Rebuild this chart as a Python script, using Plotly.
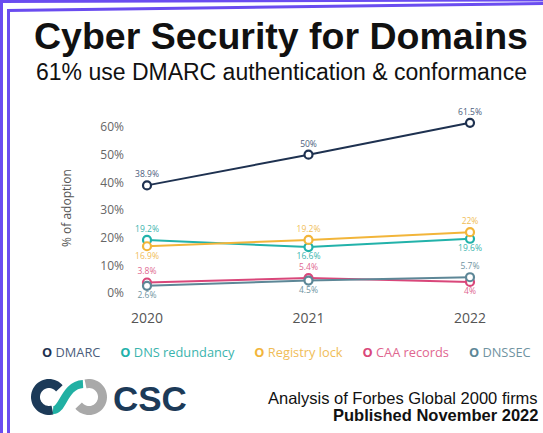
import numpy as np
import plotly.graph_objects as go

# ---------------- data ----------------
years = [2020, 2021, 2022]
dmarc = [38.9, 50, 61.5]
dns_redundancy = [19.2, 16.6, 19.6]
registry_lock = [16.9, 19.2, 22]
caa_records = [3.8, 5.4, 4]
dnssec = [2.6, 4.5, 5.7]
series_names = ["DMARC", "DNS redundancy", "Registry lock", "CAA records", "DNSSEC"]
y_ticks = [0, 10, 20, 30, 40, 50, 60]
y_tick_labels = ["0%", "10%", "20%", "30%", "40%", "50%", "60%"]

title = "Cyber Security for Domains"
subtitle = "61% use DMARC authentication &amp; conformance"
y_title = "% of adoption"
note1 = "Analysis of Forbes Global 2000 firms"
note2 = "Published November 2022"

# ---------------- styles ----------------
W, H = 543, 433
def px(x):
    return x / W
def py(y):
    return 1 - y / H

line_colors = ["#1e3150", "#22b2aa", "#f2b53a", "#d9477a", "#5d8797"]
label_colors = ["#4b5d7c", "#3ab4ad", "#f0bd57", "#e0668f", "#6f93a1"]
positions = [
    ["top center", "top center", "top center"],
    ["top center", "bottom center", "bottom center"],
    ["bottom center", "top center", "top center"],
    ["top center", "top center", "bottom center"],
    ["bottom center", "bottom center", "top center"],
]
values = [dmarc, dns_redundancy, registry_lock, caa_records, dnssec]

FONT = "Open Sans"
fig = go.Figure()
for name, vals, lc, tc, pos in zip(series_names, values, line_colors, label_colors, positions):
    fig.add_trace(go.Scatter(
        x=years, y=vals, name=name, mode="lines+markers+text",
        line=dict(color=lc, width=2),
        marker=dict(symbol="circle", size=8, color="white", line=dict(color=lc, width=2.2)),
        text=[f"{v:g}%" for v in vals], textposition=pos,
        textfont=dict(family=FONT, size=8.5, color=tc),
        cliponaxis=False, showlegend=False, hoverinfo="skip",
    ))

# x: 2020 -> 147px, 2022 -> 470px ; y: 0% -> 293px, 60% -> 127px
x_l, x_r = 125, 495
xs = (470 - 147) / 2
y_t, y_b = 105, 300
ys = (293 - 127) / 60

fig.update_xaxes(
    domain=[px(x_l), px(x_r)],
    range=[2020 - (147 - x_l) / xs, 2022 + (x_r - 470) / xs],
    tickvals=years, ticktext=[str(y) for y in years],
    showgrid=False, zeroline=False, showline=False, ticks="",
    tickfont=dict(family=FONT, size=14, color="#555555"),
    ticklabelstandoff=8, fixedrange=True,
)
fig.update_yaxes(
    domain=[py(y_b), py(y_t)],
    range=[(293 - y_b) / ys, (293 - y_t) / ys],
    tickvals=y_ticks, ticktext=y_tick_labels,
    showgrid=False, zeroline=False, showline=False, ticks="",
    tickfont=dict(family=FONT, size=12, color="#666666"),
    fixedrange=True,
)

ann = []
ann.append(dict(text=f"<b>{title}</b>", x=px(281), y=py(36), xref="paper", yref="paper",
                xanchor="center", yanchor="middle", showarrow=False,
                font=dict(family="Liberation Sans", size=37.5, color="#111111")))
ann.append(dict(text=subtitle, x=px(281), y=py(72), xref="paper", yref="paper",
                xanchor="center", yanchor="middle", showarrow=False,
                font=dict(family="Liberation Sans", size=23, color="#111111")))
ann.append(dict(text=y_title, x=px(66), y=py(208), xref="paper", yref="paper",
                xanchor="center", yanchor="middle", showarrow=False, textangle=-90,
                font=dict(family=FONT, size=12, color="#555555")))

# legend as colored text row
parts = []
for name, lc, tc in zip(series_names, line_colors, label_colors):
    parts.append(f"<span style='color:{lc}'><b>O</b></span> <span style='color:{tc}'>{name}</span>")
ann.append(dict(text="      ".join(parts), x=px(286), y=py(352), xref="paper", yref="paper",
                xanchor="center", yanchor="middle", showarrow=False,
                font=dict(family=FONT, size=12.8, color="#333333")))

ann.append(dict(text=note1, x=px(540), y=py(398), xref="paper", yref="paper",
                xanchor="right", yanchor="middle", showarrow=False,
                font=dict(family="Liberation Sans", size=16.5, color="#111111")))
ann.append(dict(text=f"<b>{note2}</b>", x=px(540), y=py(415), xref="paper", yref="paper",
                xanchor="right", yanchor="middle", showarrow=False,
                font=dict(family="Liberation Sans", size=16.5, color="#111111")))
ann.append(dict(text="<b>CSC</b>", x=px(150), y=py(398), xref="paper", yref="paper",
                xanchor="center", yanchor="middle", showarrow=False,
                font=dict(family="Liberation Sans", size=35, color="#1c3a58")))

# ---------------- decorations: border and logo ----------------
purple = "#6a4cf0"
shapes = []
def seg(x0, y0, x1, y1, color, width):
    return dict(type="line", xref="paper", yref="paper", x0=px(x0), y0=py(y0), x1=px(x1), y1=py(y1),
                line=dict(color=color, width=width), layer="above")
shapes.append(seg(1.5, 3, 1.5, H, purple, 3))
shapes.append(seg(0, 1.5, W, 0, purple, 3))
shapes.append(seg(8.5, 9, 8.5, H, purple, 3))
shapes.append(seg(7, 10.5, W, 3.5, purple, 3))

def arc_path(cx, cy, r, a0, a1, n=40):
    t = np.radians(np.linspace(a0, a1, n))
    xs_ = cx + r * np.cos(t)
    ys_ = cy - r * np.sin(t)
    return "M " + " L ".join(f"{px(a):.5f},{py(b):.5f}" for a, b in zip(xs_, ys_))

shapes.append(dict(type="path", xref="paper", yref="paper", path=arc_path(49, 397, 13.5, 40, 285),
                   line=dict(color="#1c3a58", width=9)))
shapes.append(dict(type="path", xref="paper", yref="paper", path=arc_path(89, 397, 13.5, 105, -140),
                   line=dict(color="#a9a9a9", width=9)))
teal_path = (f"M {px(53):.5f},{py(410):.5f} C {px(63):.5f},{py(411):.5f} "
             f"{px(64):.5f},{py(385):.5f} {px(83):.5f},{py(384):.5f}")
shapes.append(dict(type="path", xref="paper", yref="paper", path=teal_path,
                   line=dict(color="#21b0a3", width=8)))

fig.update_layout(
    width=W, height=H, margin=dict(l=0, r=0, t=0, b=0),
    paper_bgcolor="white", plot_bgcolor="white",
    annotations=ann, shapes=shapes, showlegend=False,
)

fig.write_html("out.html", config={"displayModeBar": False},
               post_script="document.body.style.margin='0';")
